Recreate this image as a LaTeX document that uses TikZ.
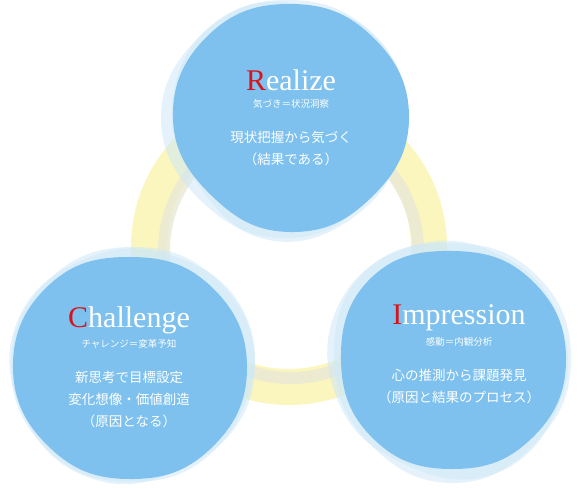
\documentclass[tikz,border=0pt]{standalone}
\usepackage{fontspec}
\setmainfont{Liberation Serif}
\newfontfamily\jpfont{Noto Sans CJK JP}
\usetikzlibrary{calc}
\definecolor{blobblue}{HTML}{7EC1EE}
\definecolor{haloblue}{HTML}{CFE8F8}
\definecolor{ringyellow}{HTML}{FBF6BE}
\definecolor{ringbeige}{HTML}{E9E8D6}
\definecolor{capred}{HTML}{D7141A}

\begin{document}
\begin{tikzpicture}[x=1pt, y=-1pt,
  blob/.style={fill=blobblue, draw=none},
  halo/.style={fill=haloblue, draw=none, opacity=0.55},
  title/.style={text=white, font=\fontsize{30}{32}\selectfont, inner sep=0pt},
  subtitle/.style={text=white, font=\jpfont\fontsize{9.5}{11}\selectfont, inner sep=0pt},
  body/.style={text=white, font=\jpfont\fontsize{13.5}{22}\selectfont, align=center, inner sep=0pt}]
\useasboundingbox (0,0) rectangle (578,488);
% ring
\coordinate (ringc) at (289,247);
\fill[ringyellow, even odd rule] (ringc) circle[radius=158] (ringc) circle[radius=122];
\fill[ringbeige, opacity=0.8, even odd rule] ($(ringc)+(2,4)$) circle[radius=133] ($(ringc)+(2,4)$) circle[radius=121];
% blob centres
\coordinate (rc) at (291,118);
\coordinate (cc) at (130,368);
\coordinate (ic) at (453,360);
% halos
\fill[halo, shift={(rc)}] plot[smooth cycle, tension=0.75] coordinates {(0:116) (45:112) (90:120) (135:122) (180:130) (225:122) (270:118) (315:117)};
\fill[halo, shift={(rc)}] plot[smooth cycle, tension=0.75] coordinates {(10:113) (55:117) (100:124) (145:114) (190:120) (235:122) (280:114) (325:118)};
\fill[halo, shift={(cc)}] plot[smooth cycle, tension=0.75] coordinates {(0:125) (45:118) (90:114) (135:116) (180:119) (225:120) (270:121) (315:124)};
\fill[halo, shift={(cc)}] plot[smooth cycle, tension=0.75] coordinates {(20:120) (65:113) (110:117) (155:116) (200:122) (245:118) (290:120) (335:127)};
\fill[halo, shift={(ic)}] plot[smooth cycle, tension=0.75] coordinates {(0:118) (45:117) (90:123) (135:118) (180:119) (225:125) (270:117) (315:119)};
\fill[halo, shift={(ic)}] plot[smooth cycle, tension=0.75] coordinates {(25:115) (70:121) (115:115) (160:122) (205:127) (250:121) (295:115) (340:114)};
% main blobs
\fill[blob, shift={(rc)}] plot[smooth cycle, tension=0.75] coordinates {(0:118) (45:113) (90:114) (135:111) (180:118) (225:117) (270:114) (315:115)};
\fill[blob, shift={(cc)}] plot[smooth cycle, tension=0.75] coordinates {(0:117) (45:114) (90:111) (135:113) (180:117) (225:116) (270:111) (315:115)};
\fill[blob, shift={(ic)}] plot[smooth cycle, tension=0.75] coordinates {(0:113) (45:111) (90:109) (135:112) (180:112) (225:116) (270:109) (315:112)};
% texts
\node[title] (realize) at (291,80) {\textcolor{capred}{R}ealize};
\node[subtitle] (realizesub) at (291,104) {気づき＝状況洞察};
\node[body] (realizebody) at (291,148) {現状把握から気づく\\（結果である）};
\node[title] (challenge) at (129,320) {\textcolor{capred}{C}hallenge};
\node[subtitle] (challengesub) at (129,344) {チャレンジ＝変革予知};
\node[body] (challengebody) at (129,399) {新思考で目標設定\\変化想像・価値創造\\（原因となる）};
\node[title] (impression) at (459,318) {\textcolor{capred}{I}mpression};
\node[subtitle] (impressionsub) at (459,342) {感動＝内観分析};
\node[body] (impressionbody) at (459,386) {心の推測から課題発見\\（原因と結果のプロセス）};
\end{tikzpicture}
\end{document}
